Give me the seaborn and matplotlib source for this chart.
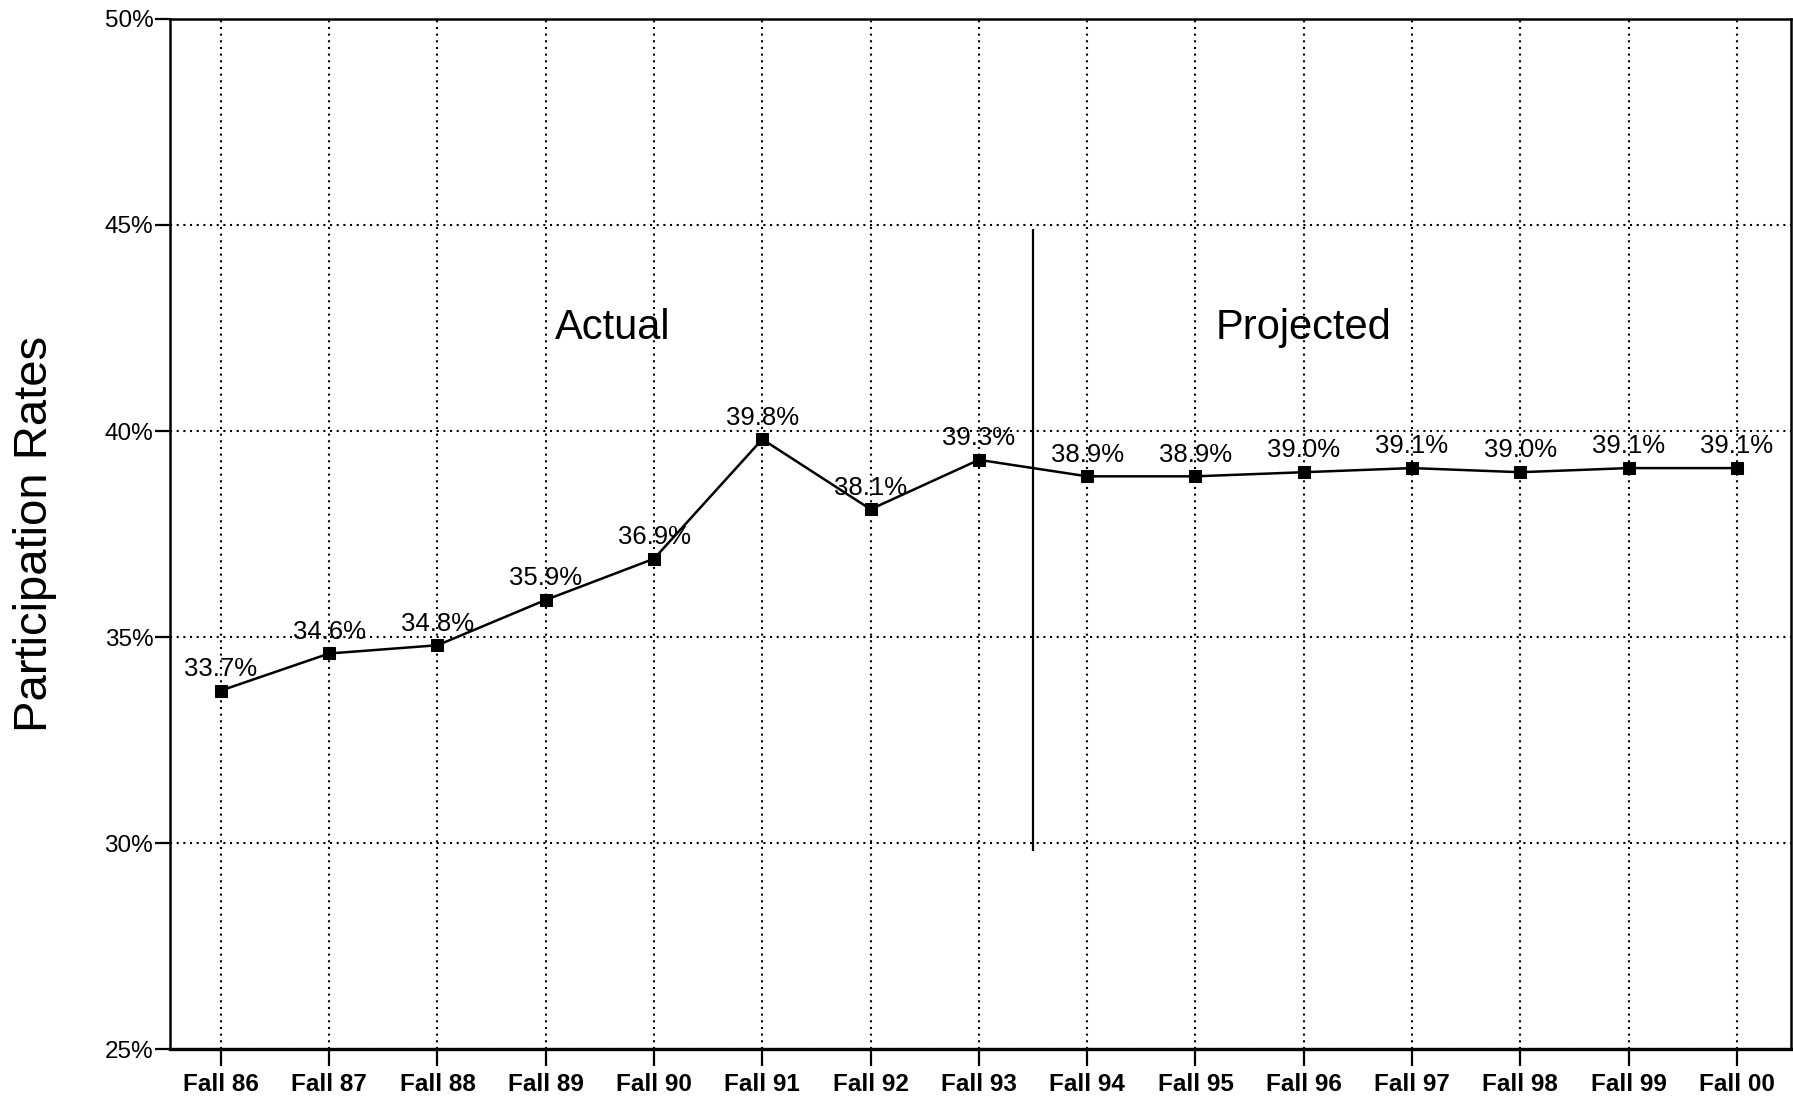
import matplotlib
matplotlib.use("Agg")
import matplotlib.pyplot as plt
import seaborn as sns
import pandas as pd

# Participation rates by fall term: actual through Fall 93, projected afterwards
terms = ["Fall 86", "Fall 87", "Fall 88", "Fall 89", "Fall 90", "Fall 91", "Fall 92",
         "Fall 93", "Fall 94", "Fall 95", "Fall 96", "Fall 97", "Fall 98", "Fall 99", "Fall 00"]
rates = [33.7, 34.6, 34.8, 35.9, 36.9, 39.8, 38.1, 39.3, 38.9, 38.9, 39.0, 39.1, 39.0, 39.1, 39.1]
n_actual = 8
y_ticks = [25, 30, 35, 40, 45, 50]
y_tick_labels = ["25%", "30%", "35%", "40%", "45%", "50%"]

df = pd.DataFrame({"term": terms, "rate": rates})

sns.set_theme(style="white")
plt.rcParams["font.family"] = ["Liberation Sans", "DejaVu Sans"]

fig = plt.figure(figsize=(17.93, 11.04), dpi=100)
ax = fig.add_axes([0.0948, 0.0498, 0.9041, 0.9330])

sns.lineplot(data=df, x="term", y="rate", sort=False, ax=ax, color="black",
             linewidth=1.8, marker="s", markersize=9, markeredgecolor="black",
             markerfacecolor="black", zorder=3)

ax.set_xlim(-0.47, len(terms) - 0.5)
ax.set_ylim(25, 50)
ax.set_yticks(y_ticks)
ax.set_yticklabels(y_tick_labels, fontsize=17.5)
ax.set_xticks(range(len(terms)))
ax.set_xticklabels(terms, fontsize=17.5, fontweight="bold")

ax.tick_params(axis="x", direction="out", length=12, width=1.6, pad=5,
               colors="black", bottom=True)
ax.tick_params(axis="y", direction="out", length=11, width=1.6, pad=1,
               colors="black", left=True)

ax.grid(True, linestyle=(0, (1, 2.2)), color="black", linewidth=1.5)
ax.set_axisbelow(True)

for side in ["left", "right", "top", "bottom"]:
    ax.spines[side].set_visible(True)
    ax.spines[side].set_color("black")
    ax.spines[side].set_linewidth(1.8)
ax.spines["bottom"].set_linewidth(2.4)

# Value labels above each point
for i, v in enumerate(rates):
    ax.annotate(f"{v:.1f}%", (i, v), xytext=(0, 7), textcoords="offset points",
                ha="center", va="bottom", fontsize=18.5, color="black")

# Divider between actual and projected terms
ax.vlines(n_actual - 0.5, 29.8, 44.9, color="black", linewidth=1.6)
ax.text(3.62, 42.5, "Actual", fontsize=30, ha="center", va="center", color="black")
ax.text(10.0, 42.5, "Projected", fontsize=30, ha="center", va="center", color="black")

ax.set_xlabel("")
ax.set_ylabel("Participation Rates", fontsize=34, color="black")
ax.yaxis.set_label_coords(-0.07, 0.5)

fig.savefig("out.png", dpi=100, facecolor="white")
